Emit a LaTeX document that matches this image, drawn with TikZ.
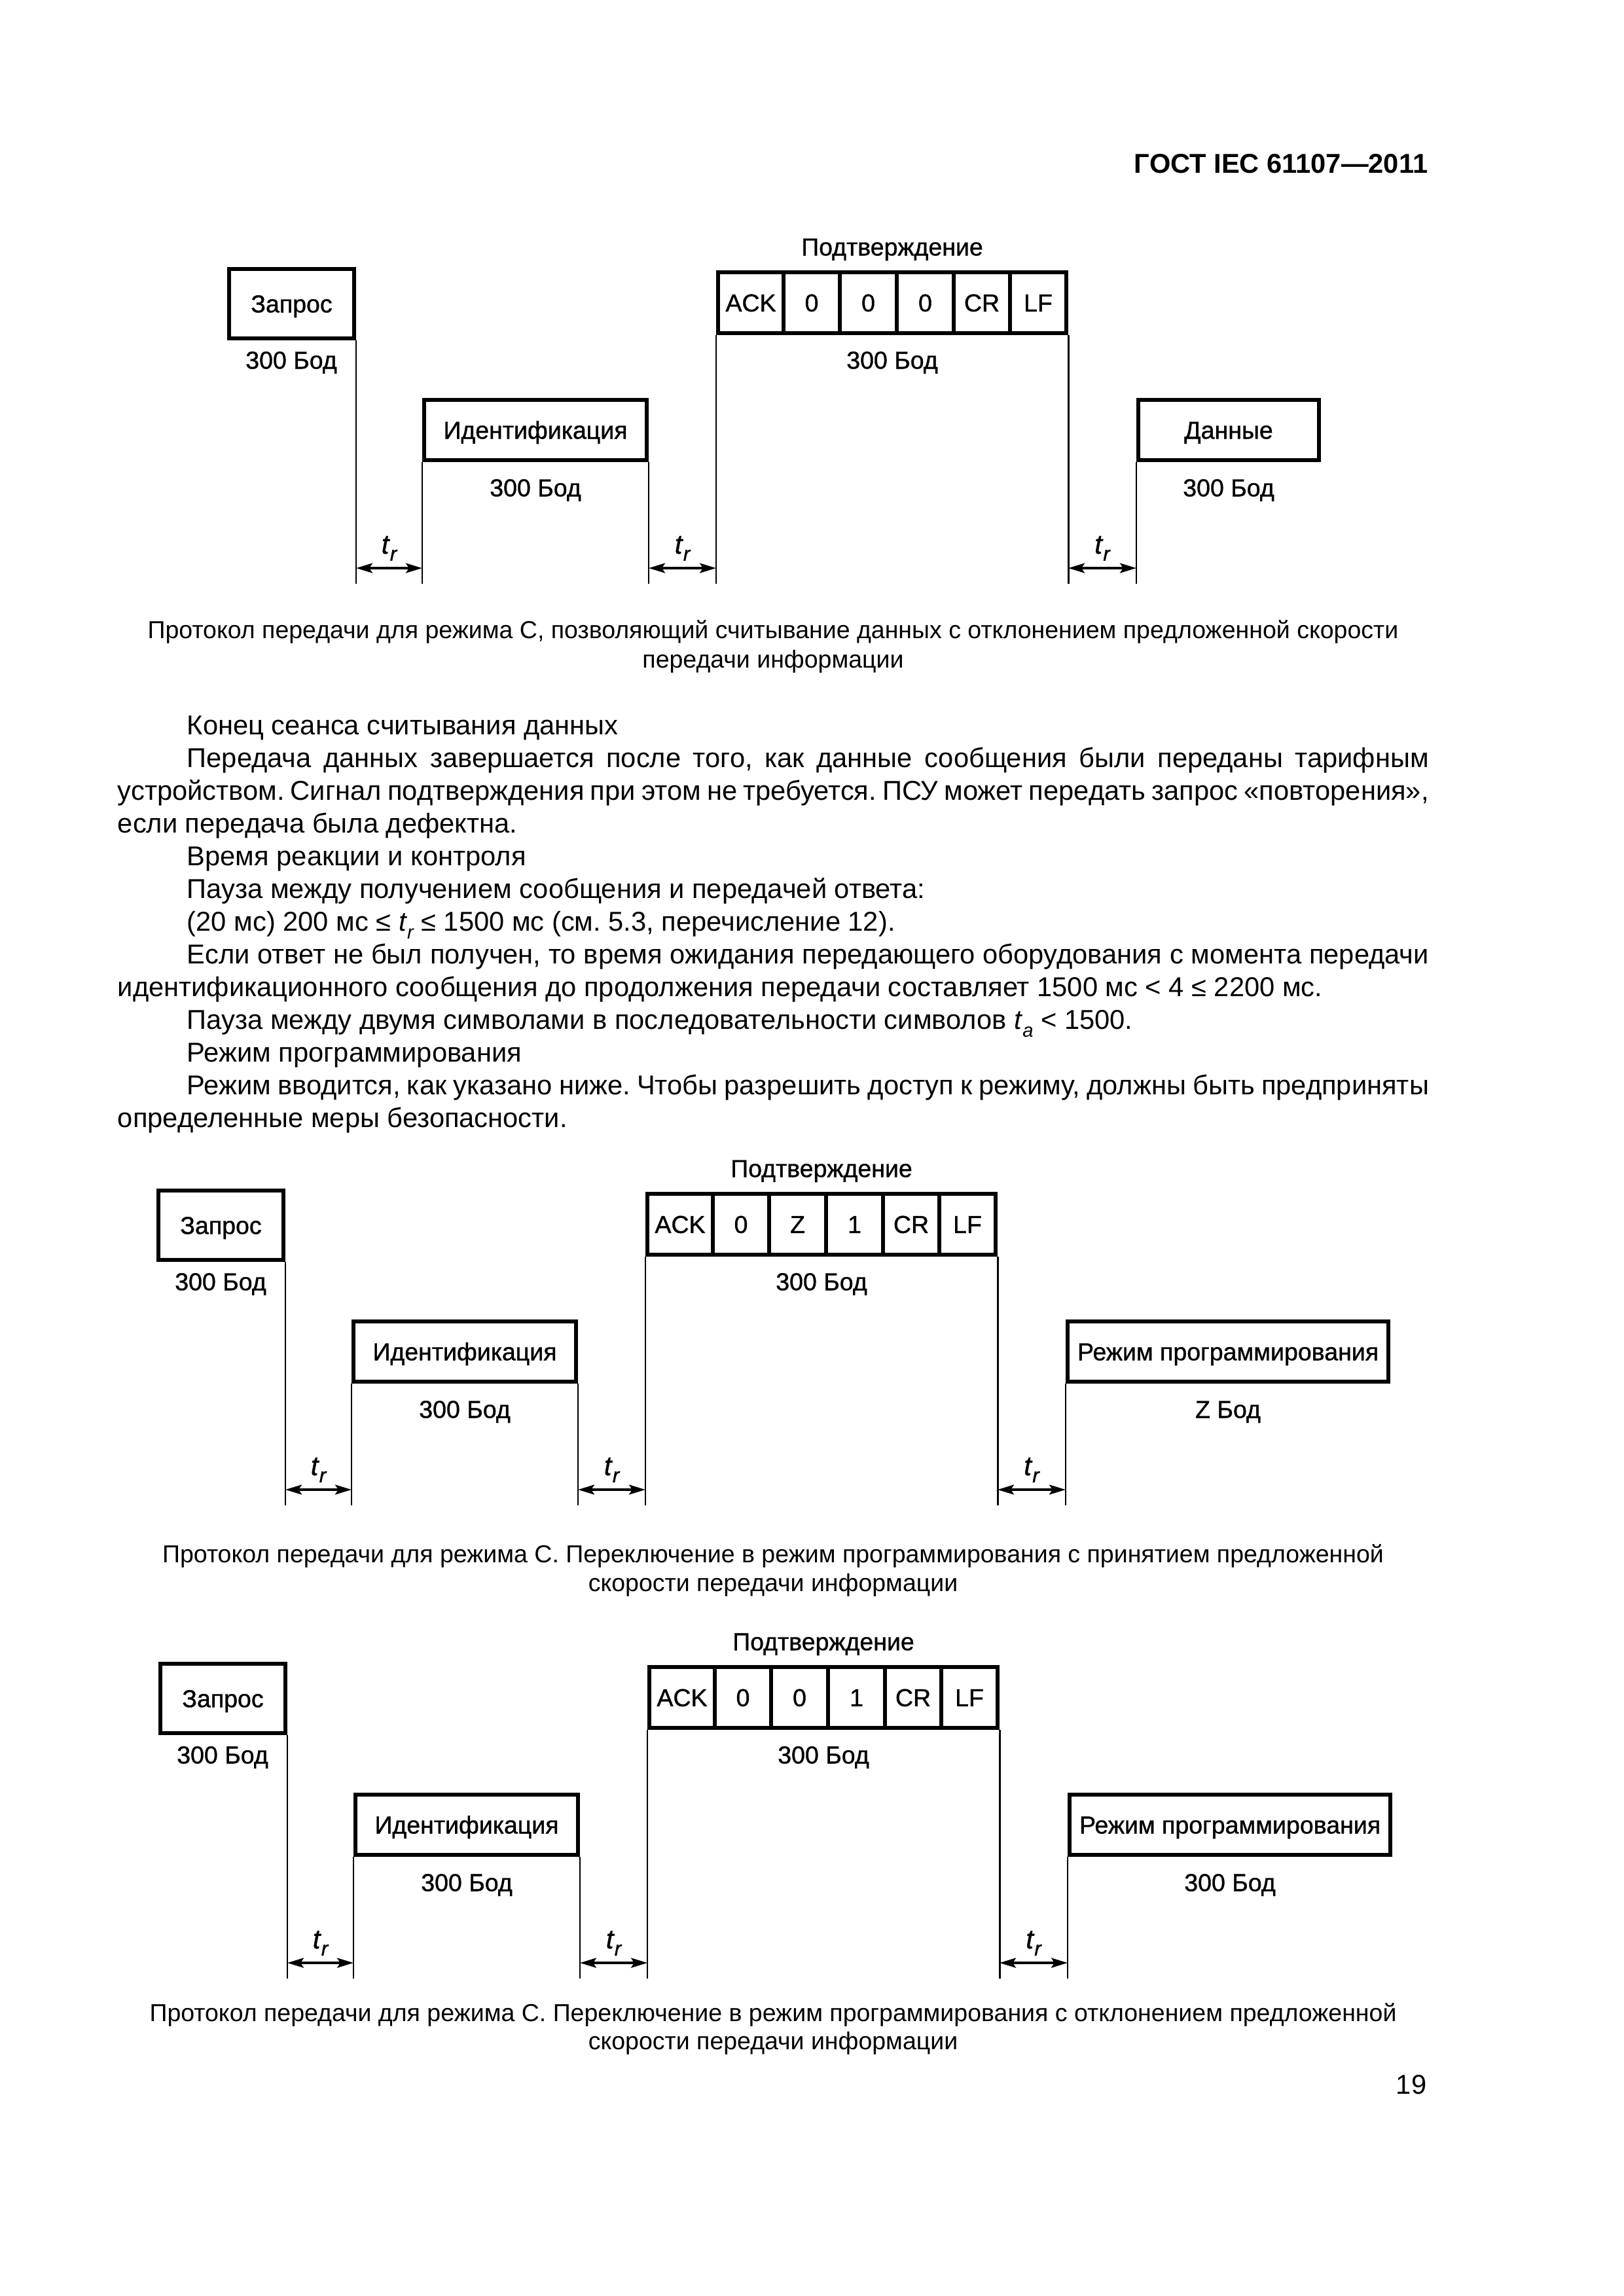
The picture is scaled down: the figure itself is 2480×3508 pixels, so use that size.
\documentclass[tikz,border=0pt]{standalone}
\usepackage{fontspec}
\setmainfont{Liberation Sans}
\newfontfamily\diagfont{Liberation Sans}[FakeBold=1.0]
\usetikzlibrary{arrows.meta,calc}
\frenchspacing
\newcommand\subtr[1]{\raisebox{-0.3em}{\fontsize{7}{8}\selectfont\itshape #1}}
\newcommand\trlabel{\textit{t}\raisebox{-2.6pt}{\fontsize{7.5}{8}\selectfont\itshape r}}
\tikzset{
  box/.style={draw, line width=1.45pt, inner sep=0pt, font=\diagfont\fontsize{9}{10}\selectfont, text height=6.4pt, text depth=0pt},
  thinl/.style={line width=0.7pt},
  lbl/.style={inner sep=0pt, font=\diagfont\fontsize{9}{10}\selectfont, text height=6.4pt, text depth=0pt},
  trarrow/.style={{Stealth[length=6pt,width=3.6pt,inset=1.2pt]}-{Stealth[length=6pt,width=3.6pt,inset=1.2pt]}, line width=0.85pt},
  trlab/.style={anchor=base, inner sep=0pt, yshift=5.3pt, font=\diagfont\fontsize{10}{11}\selectfont},
  body/.style={anchor=base west, inner sep=0pt, font=\fontsize{10}{12}\selectfont},
  captxt/.style={anchor=base, inner sep=0pt, font=\fontsize{9}{11}\selectfont},
}
% box node from corner (x1,y1) to (x2,y2), pixel units
\newcommand\BoxNode[6]{\node[box, minimum width={(#4-#2)*0.24pt}, minimum height={(#5-#3)*0.24pt}] (#1) at ({(#2+#4)/2},{(#3+#5)/2}) {#6};}
% #1 prefix, #2 dx, #3 dy, #4 cell 3, #5 cell 4, #6 last box text, #7 last box right edge, #8 last baud
\newcommand\ProtoDiag[8]{%
\begin{scope}[shift={(#2,#3)}]
  \coordinate (#1bot) at (0,3023);
  \coordinate (#1arr) at (0,2999);
  \BoxNode{#1zap}{245}{2542}{436}{2648}{Запрос}
  \node[lbl] (#1zapb) at (340,2681) {300 Бод};
  \BoxNode{#1id}{543}{2742}{883}{2834}{Идентификация}
  \node[lbl] (#1idb) at (713,2876) {300 Бод};
  \node[lbl] (#1conf) at (1258,2508) {Подтверждение};
  \BoxNode{#1c1}{992}{2547}{1092}{2640}{ACK}
  \BoxNode{#1c2}{1092}{2547}{1178}{2640}{0}
  \BoxNode{#1c3}{1178}{2547}{1265}{2640}{#4}
  \BoxNode{#1c4}{1265}{2547}{1352}{2640}{#5}
  \BoxNode{#1c5}{1352}{2547}{1438}{2640}{CR}
  \BoxNode{#1c6}{1438}{2547}{1524}{2640}{LF}
  \node[lbl] (#1confb) at (1258,2681) {300 Бод};
  \BoxNode{#1last}{1634}{2742}{#7}{2834}{#6}
  \node[lbl] (#1lastb) at (#1last.south |- #1idb) {#8};
  \draw[thinl] (#1zap.south east) -- (#1zap.south east |- #1bot);
  \draw[thinl] (#1id.south west) -- (#1id.south west |- #1bot);
  \draw[thinl] (#1id.south east) -- (#1id.south east |- #1bot);
  \draw[thinl] (#1c1.south west) -- (#1c1.south west |- #1bot);
  \draw[thinl] (#1c6.south east) -- (#1c6.south east |- #1bot);
  \draw[thinl] (#1last.south west) -- (#1last.south west |- #1bot);
  \draw[trarrow] (#1zap.south east |- #1arr) -- (#1id.south west |- #1arr) node[trlab, pos=0.5] (#1t1) {\trlabel};
  \draw[trarrow] (#1id.south east |- #1arr) -- (#1c1.south west |- #1arr) node[trlab, pos=0.5] (#1t2) {\trlabel};
  \draw[trarrow] (#1c6.south east |- #1arr) -- (#1last.south west |- #1arr) node[trlab, pos=0.5] (#1t3) {\trlabel};
\end{scope}}
\begin{document}
\begin{tikzpicture}[x=0.24pt, y=-0.24pt]
  \useasboundingbox (0,0) rectangle (2480,3508);
  \fill[white] (0,0) rectangle (2480,3508);
  \node[anchor=base east, inner sep=0pt, font=\fontsize{10}{12}\selectfont\bfseries] (hdr) at (2182,265) {ГОСТ IEC 61107—2011};

  \ProtoDiag{A}{105}{-2131}{0}{0}{Данные}{1910}{300 Бод}
  \node[captxt] (cap1a) at (1181,976) {Протокол передачи для режима С, позволяющий считывание данных с отклонением предложенной скорости};
  \node[captxt] (cap1b) at (1181,1020) {передачи информации};

  \node[body] (l1) at (285,1122) {Конец сеанса считывания данных};
  \node[body] (l2) at (285,1172) {\makebox[455.3pt][s]{Передача данных завершается после того, как данные сообщения были переданы тарифным}};
  \node[body] (l3) at (179,1222) {\makebox[480.7pt][s]{устройством. Сигнал подтверждения при этом не требуется. ПСУ может передать запрос «повторения»,}};
  \node[body] (l4) at (179,1272) {если передача была дефектна.};
  \node[body] (l5) at (285,1322) {Время реакции и контроля};
  \node[body] (l6) at (285,1372) {Пауза между получением сообщения и передачей ответа:};
  \node[body] (l7) at (285,1422) {(20 мс) 200 мс ≤ \textit{t}\subtr{r} ≤ 1500 мс (см. 5.3, перечисление 12).};
  \node[body] (l8) at (285,1472) {\makebox[455.3pt][s]{Если ответ не был получен, то время ожидания передающего оборудования с момента передачи}};
  \node[body] (l9) at (179,1522) {идентификационного сообщения до продолжения передачи составляет 1500 мс < 4 ≤ 2200 мс.};
  \node[body] (l10) at (285,1572) {Пауза между двумя символами в последовательности символов \textit{t}\subtr{a} < 1500.};
  \node[body] (l11) at (285,1622) {Режим программирования};
  \node[body] (l12) at (285,1672) {\makebox[455.3pt][s]{Режим вводится, как указано ниже. Чтобы разрешить доступ к режиму, должны быть предприняты}};
  \node[body] (l13) at (179,1722) {определенные меры безопасности.};

  \ProtoDiag{B}{-3}{-723}{Z}{1}{Режим программирования}{2124}{Z Бод}
  \node[captxt] (cap2a) at (1181,2387) {Протокол передачи для режима С. Переключение в режим программирования с принятием предложенной};
  \node[captxt] (cap2b) at (1181,2431) {скорости передачи информации};

  \ProtoDiag{C}{0}{0}{0}{1}{Режим программирования}{2124}{300 Бод}
  \node[captxt] (cap3a) at (1181,3088) {Протокол передачи для режима С. Переключение в режим программирования с отклонением предложенной};
  \node[captxt] (cap3b) at (1181,3131) {скорости передачи информации};

  \node[anchor=base east, inner sep=0pt, font=\fontsize{10}{12}\selectfont] (pnum) at (2180,3199) {19};
\end{tikzpicture}
\end{document}
